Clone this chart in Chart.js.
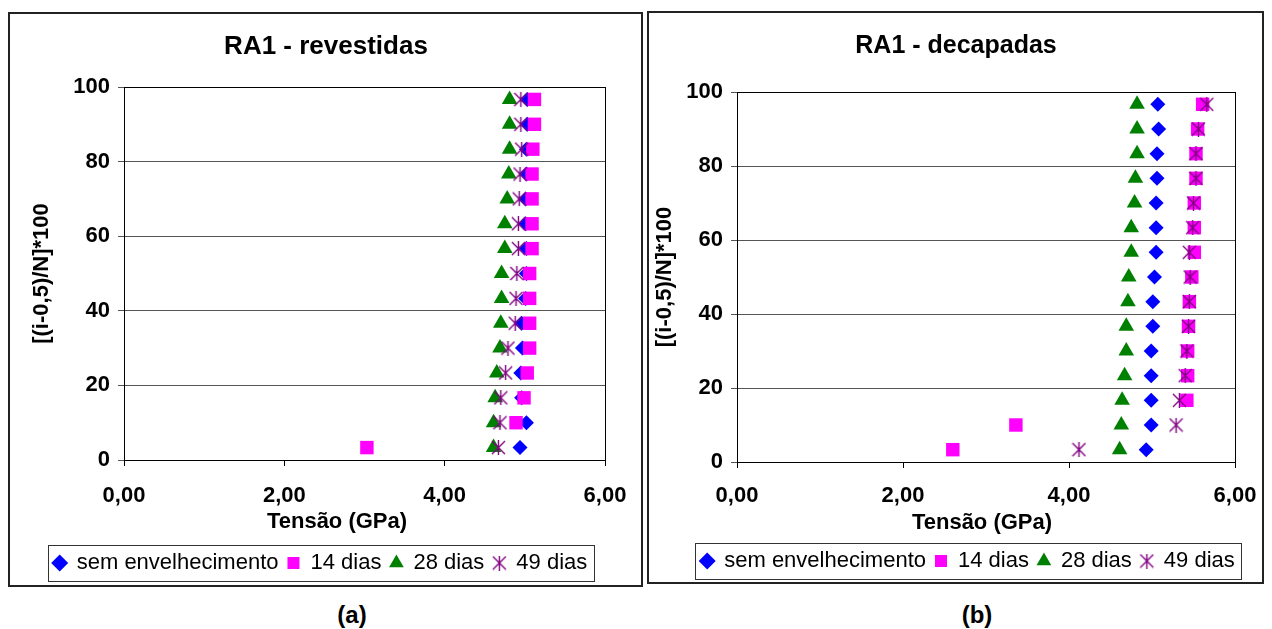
<!DOCTYPE html>
<html>
<head>
<meta charset="utf-8">
<script src="https://cdn.jsdelivr.net/npm/chart.js@4.4.0/dist/chart.umd.min.js"></script>
<style>
  body { margin: 0; background: #fff; width: 1272px; height: 629px; position: relative; overflow: hidden; font-family: "Liberation Sans", Arial, sans-serif; }
  .box { position: absolute; border: 2px solid #222; box-sizing: border-box; background: #fff; }
  #boxA { left: 8px; top: 12px; width: 635px; height: 575px; }
  #boxB { left: 647px; top: 11px; width: 617px; height: 573px; }
  .cap { position: absolute; top: 601px; width: 100px; text-align: center; font-weight: bold; font-size: 24px; }
</style>
</head>
<body>
<div class="box" id="boxA"><canvas id="chartA" width="631" height="571"></canvas></div>
<div class="box" id="boxB"><canvas id="chartB" width="613" height="569"></canvas></div>
<div class="cap" style="left:302px">(a)</div>
<div class="cap" style="left:927px">(b)</div>
<script>
// Posições [(i-0,5)/N]*100, N = 15
const pct = [3.33, 10, 16.67, 23.33, 30, 36.67, 43.33, 50, 56.67, 63.33, 70, 76.67, 83.33, 90, 96.67];

const seriesNames = ["sem envelhecimento", "14 dias", "28 dias", "49 dias"];
const xTicks = [0, 2, 4, 6];
const xTickLabels = ["0,00", "2,00", "4,00", "6,00"];

// RA1 - revestidas (GPa)
const revSem = [4.94, 5.02, 4.96, 4.95, 4.97, 4.96, 5.01, 5.02, 5.02, 5.01, 5.01, 5.02, 5.02, 5.03, 5.03];
const rev14 = [3.03, 4.89, 4.99, 5.03, 5.06, 5.06, 5.06, 5.06, 5.09, 5.09, 5.09, 5.09, 5.10, 5.12, 5.12];
const rev28 = [4.61, 4.61, 4.63, 4.65, 4.69, 4.70, 4.71, 4.71, 4.75, 4.75, 4.78, 4.80, 4.81, 4.81, 4.81];
const rev49 = [4.67, 4.69, 4.70, 4.76, 4.79, 4.88, 4.89, 4.90, 4.92, 4.92, 4.93, 4.94, 4.96, 4.95, 4.95];

// RA1 - decapadas (GPa)
const decSem = [4.93, 4.99, 4.99, 4.99, 4.99, 5.01, 5.01, 5.03, 5.05, 5.05, 5.05, 5.06, 5.06, 5.08, 5.07];
const dec14 = [2.60, 3.36, 5.42, 5.43, 5.43, 5.44, 5.45, 5.48, 5.51, 5.51, 5.51, 5.53, 5.53, 5.55, 5.61];
const dec28 = [4.61, 4.63, 4.64, 4.67, 4.69, 4.69, 4.71, 4.72, 4.75, 4.75, 4.79, 4.80, 4.82, 4.82, 4.82];
const dec49 = [4.12, 5.29, 5.33, 5.40, 5.42, 5.44, 5.45, 5.46, 5.45, 5.49, 5.50, 5.53, 5.53, 5.56, 5.66];

Chart.defaults.font.family = '"Liberation Sans", Arial, sans-serif';
Chart.defaults.color = "#000";

// marcador asterisco (X + traço vertical) como no Excel
function asterisco(size) {
  const c = document.createElement("canvas");
  c.width = size;
  c.height = size;
  const g = c.getContext("2d");
  g.strokeStyle = "#800080";
  g.lineWidth = 1.4;
  const m = size / 2;
  g.beginPath();
  g.moveTo(m, 0);
  g.lineTo(m, size);
  g.moveTo(1, 1);
  g.lineTo(size - 1, size - 1);
  g.moveTo(size - 1, 1);
  g.lineTo(1, size - 1);
  g.stroke();
  return c;
}
const star = asterisco(15);

function makeDatasets(sem, d14, d28, d49) {
  const pts = (xs) => xs.map((x, i) => ({ x: x, y: pct[i] }));
  return [
    { label: seriesNames[0], data: pts(sem), pointStyle: "rectRot", pointRadius: 7.5, backgroundColor: "#0000ff", borderColor: "#0000ff", borderWidth: 0, order: 4 },
    { label: seriesNames[1], data: pts(d14), pointStyle: "rect", pointRadius: 9.5, backgroundColor: "#ff00ff", borderColor: "#ff00ff", borderWidth: 0, order: 3 },
    { label: seriesNames[2], data: pts(d28), pointStyle: "triangle", pointRadius: 9, backgroundColor: "#008000", borderColor: "#008000", borderWidth: 0, order: 2 },
    { label: seriesNames[3], data: pts(d49), pointStyle: star, pointRadius: 7.5, backgroundColor: "#800080", borderColor: "#800080", borderWidth: 0, order: 1 },
  ];
}

// título, moldura da área do gráfico, caixa da legenda e título do eixo x
const decor = {
  id: "decor",
  afterLayout(chart, args, opts) {
    // desloca a legenda na horizontal como no original
    const lg = chart.legend;
    lg.left += opts.legendDx;
    lg.right += opts.legendDx;
  },
  afterDraw(chart, args, opts) {
    const ctx = chart.ctx;
    const a = chart.chartArea;
    ctx.save();
    ctx.strokeStyle = "#000";
    ctx.lineWidth = 1;
    ctx.strokeRect(Math.round(a.left) + 0.5, Math.round(a.top) + 0.5, Math.round(a.right - a.left), Math.round(a.bottom - a.top));

    const hb = chart.legend.legendHitBoxes;
    let l = Infinity, r = -Infinity, t = Infinity, b = -Infinity;
    hb.forEach((h) => {
      l = Math.min(l, h.left);
      r = Math.max(r, h.left + h.width);
      t = Math.min(t, h.top);
      b = Math.max(b, h.top + h.height);
    });
    ctx.strokeStyle = "#333";
    ctx.strokeRect(Math.round(l - 6) + 0.5, Math.round(t - 7) + 0.5, Math.round(r - l + 12), Math.round(b - t + 14));

    ctx.fillStyle = "#000";
    ctx.textAlign = "center";
    ctx.textBaseline = "middle";
    ctx.font = "bold " + opts.titleSize + 'px "Liberation Sans", Arial, sans-serif';
    ctx.fillText(opts.title, opts.titleX, opts.titleY);
    ctx.font = 'bold 22px "Liberation Sans", Arial, sans-serif';
    ctx.fillText(opts.xTitle, opts.xTitleX, opts.xTitleY);
    ctx.restore();
  },
};

function createScatter(id, title, datasets, lay) {
  return new Chart(document.getElementById(id), {
    type: "scatter",
    data: { datasets },
    plugins: [decor],
    options: {
      responsive: false,
      animation: false,
      layout: { padding: { left: 0, right: lay.padRight, top: lay.padTop, bottom: lay.padBottom } },
      plugins: {
        title: { display: false },
        legend: {
          position: "bottom",
          labels: { usePointStyle: true, boxWidth: 12, boxHeight: 12, padding: 9, color: "#000", font: { size: 22 }, sort: (a, b) => a.datasetIndex - b.datasetIndex },
        },
        tooltip: { enabled: false },
        decor: {
          title: title, titleSize: lay.titleSize, titleX: lay.titleX, titleY: lay.titleY,
          xTitle: "Tensão (GPa)", xTitleX: lay.xTitleX, xTitleY: lay.xTitleY,
          legendDx: lay.legendDx,
        },
      },
      scales: {
        x: {
          type: "linear",
          min: 0,
          max: 6,
          afterFit: (s) => { s.height = lay.xAxisH; s.paddingLeft = 0; s.paddingRight = 0; },
          ticks: { stepSize: 2, padding: lay.xTickPad, color: "#000", font: { size: 22, weight: "bold" }, callback: (v) => xTickLabels[xTicks.indexOf(v)] },
          grid: { drawOnChartArea: false, drawTicks: true, tickLength: 6, color: "#000" },
          border: { display: true, color: "#000", width: 1 },
        },
        y: {
          type: "linear",
          min: 0,
          max: 100,
          afterFit: (s) => { s.width = lay.yAxisW; },
          ticks: { stepSize: 20, padding: 8, color: "#000", font: { size: 22, weight: "bold" } },
          grid: { drawOnChartArea: true, drawTicks: true, tickLength: 6, color: "#555" },
          border: { display: true, color: "#000", width: 1 },
          title: { display: true, text: "[(i-0,5)/N]*100", color: "#000", font: { size: 22, weight: "bold" }, padding: { top: lay.yTitlePad, bottom: 0 } },
        },
      },
    },
  });
}

// Gráfico (a)
createScatter("chartA", "RA1 - revestidas", makeDatasets(revSem, rev14, rev28, rev49), {
  padRight: 36, padTop: 73, padBottom: 1, titleSize: 26, titleX: 316, titleY: 33,
  yAxisW: 114, xAxisH: 83, xTickPad: 17, yTitlePad: 19, xTitleX: 327, xTitleY: 508, legendDx: 13,
});

// Gráfico (b)
createScatter("chartB", "RA1 - decapadas", makeDatasets(decSem, dec14, dec28, dec49), {
  padRight: 27, padTop: 79, padBottom: 0, titleSize: 25, titleX: 307, titleY: 33,
  yAxisW: 88, xAxisH: 79, xTickPad: 15, yTitlePad: 3, xTitleX: 333, xTitleY: 510, legendDx: 26,
});
</script>
</body>
</html>
